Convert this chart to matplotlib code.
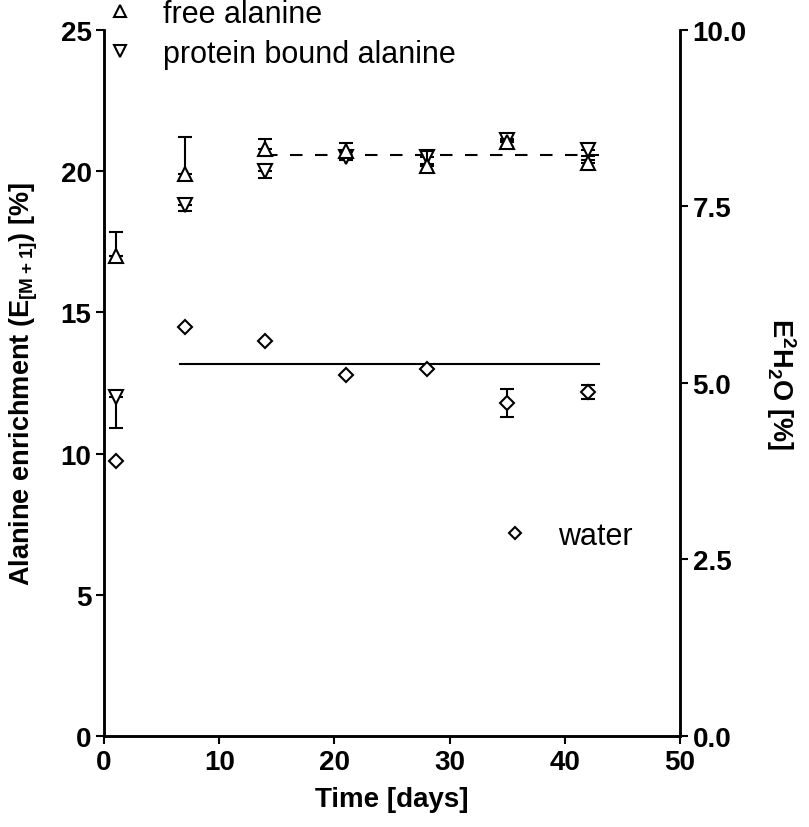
import matplotlib
matplotlib.use("Agg")
import matplotlib.pyplot as plt
from matplotlib.lines import Line2D

plt.rcParams["mathtext.default"] = "regular"

days = [1, 7, 14, 21, 28, 35, 42]

free_ala = [17.0, 19.9, 20.8, 20.7, 20.2, 21.05, 20.3]
free_err = [0.85, 1.3, 0.35, 0.3, 0.5, 0.1, 0.1]

prot_ala = [12.0, 18.8, 20.0, 20.5, 20.5, 21.1, 20.75]
prot_err = [1.1, 0.2, 0.25, 0.1, 0.25, 0.25, 0.2]

water = [3.9, 5.79, 5.6, 5.11, 5.2, 4.72, 4.87]
water_err = [0.0, 0.0, 0.0, 0.0, 0.0, 0.2, 0.1]

plateau_x = [14, 43]
plateau_ala = [20.57, 20.57]
water_x = [6.6, 43]
water_mean = [5.27, 5.27]

narrow = ["Liberation Sans Narrow", "Liberation Sans", "DejaVu Sans"]
arial = ["Liberation Sans", "DejaVu Sans"]

fig = plt.figure(figsize=(8.09, 8.28), dpi=100)
ax = fig.add_axes([0.1286, 0.1099, 0.712, 0.8527])
ax2 = ax.twinx()

lw = 1.5
zero = [0] * len(days)

# protein bound: only lower error bars
ax.errorbar(days, prot_ala, yerr=[prot_err, zero], fmt="v", ms=10.5,
            mfc="white", mec="black", mew=lw, ecolor="black", elinewidth=lw,
            capsize=4.7, capthick=lw, zorder=3)
# free alanine: only upper error bars shown
ax.errorbar(days, free_ala, yerr=[zero, free_err], fmt="^", ms=10.5,
            mfc="white", mec="black", mew=lw, ecolor="black", elinewidth=lw,
            capsize=4.7, capthick=lw, zorder=4)
ax.plot(plateau_x, plateau_ala, color="black", lw=lw, dashes=(6, 6), zorder=2)

ax2.errorbar(days, water, yerr=water_err, fmt="D", ms=7.5,
             mfc="white", mec="black", mew=lw, ecolor="black", elinewidth=lw,
             capsize=4.7, capthick=lw, zorder=3)
ax2.plot(water_x, water_mean, color="black", lw=lw, zorder=2)

ax.set_xlim(0, 50)
ax.set_ylim(0, 25)
ax2.set_ylim(0, 10)
ax.set_xticks([0, 10, 20, 30, 40, 50])
ax.set_yticks([0, 5, 10, 15, 20, 25])
ax2.set_yticks([0, 2.5, 5, 7.5, 10])
ax2.set_yticklabels(["0.0", "2.5", "5.0", "7.5", "10.0"])

for a in (ax, ax2):
    a.spines["top"].set_visible(False)
    for s in a.spines.values():
        s.set_linewidth(1.8)
    a.tick_params(direction="out", length=6, width=1.5, pad=3)
    for lab in a.get_xticklabels() + a.get_yticklabels():
        lab.set_fontfamily(narrow)
        lab.set_fontweight("bold")
        lab.set_fontsize(20)

ax.set_xlabel("Time [days]", family=narrow, fontweight="bold", fontsize=20, labelpad=8)
ax.set_ylabel("Alanine enrichment (E$_{[M+1]}$) [%]", family=arial,
              fontweight="bold", fontsize=19.5, labelpad=15)
ax2.set_ylabel("E$^{2}$H$_{2}$O [%]", family=arial, fontweight="bold",
               fontsize=19.5, rotation=270, labelpad=37)

h_free = Line2D([], [], ls="none", marker="^", ms=8.5, mfc="none", mec="black", mew=lw)
h_prot = Line2D([], [], ls="none", marker="v", ms=8.5, mfc="none", mec="black", mew=lw)
h_water = Line2D([], [], ls="none", marker="D", ms=6, mfc="none", mec="black", mew=lw)

leg1 = fig.legend([h_free, h_prot], ["free alanine", "protein bound alanine"],
                  loc="upper left", bbox_to_anchor=(105 / 809, 1.0),
                  frameon=False, prop={"family": arial, "size": 22},
                  handlelength=1.0, handletextpad=0.9, borderpad=0,
                  labelspacing=0.32, borderaxespad=0)
leg2 = fig.legend([h_water], ["water"], loc="center left",
                  bbox_to_anchor=(500 / 809, 1 - 537 / 828),
                  frameon=False, prop={"family": arial, "size": 22},
                  handlelength=1.0, handletextpad=0.9, borderpad=0, borderaxespad=0)

fig.savefig("out.png", dpi=100)
